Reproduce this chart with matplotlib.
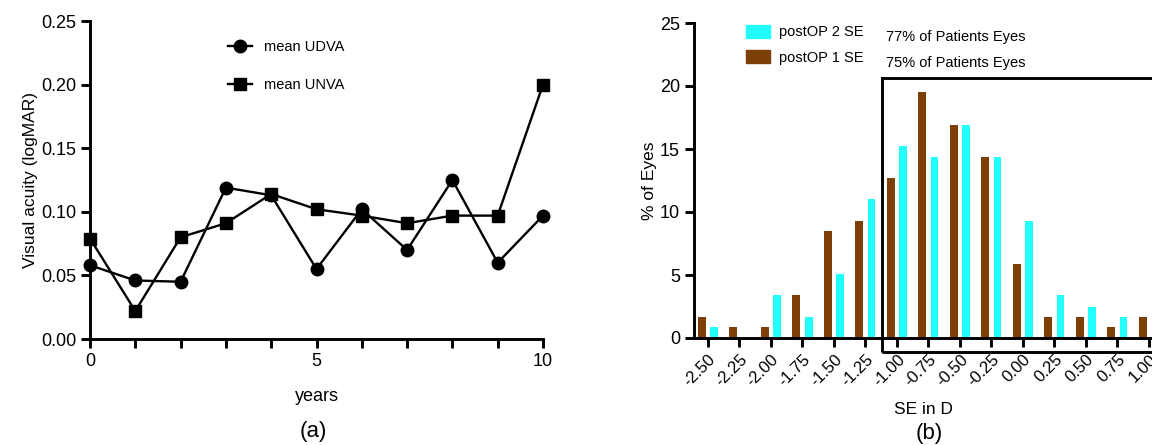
import numpy as np
import matplotlib
matplotlib.use('Agg')
import matplotlib.pyplot as plt
from matplotlib.patches import Rectangle, Patch

plt.rcParams['font.family'] = ['Liberation Sans', 'DejaVu Sans']

# Panel (a): visual acuity over years
years = [0, 1, 2, 3, 4, 5, 6, 7, 8, 9, 10]
udva = [0.058, 0.046, 0.045, 0.119, 0.113, 0.055, 0.102, 0.070, 0.125, 0.060, 0.097]
unva = [0.079, 0.022, 0.080, 0.091, 0.114, 0.102, 0.097, 0.091, 0.097, 0.097, 0.200]

# Panel (b): SE distribution
se_bins = [-2.50, -2.25, -2.00, -1.75, -1.50, -1.25, -1.00, -0.75, -0.50, -0.25,
           0.00, 0.25, 0.50, 0.75, 1.00]
postop1 = [1.7, 0.85, 0.85, 3.4, 8.5, 9.3, 12.7, 19.5, 16.9, 14.4, 5.9, 1.7, 1.7, 0.85, 1.7]
postop2 = [0.85, 0, 3.4, 1.7, 5.1, 11.0, 15.2, 14.4, 16.9, 14.4, 9.3, 3.4, 2.5, 1.7, 0]

W, H = 1152, 445
fig = plt.figure(figsize=(W / 100, H / 100), dpi=100)

lw_axis = 2.1
cyan = '#22ffff'
brown = '#7c3f06'

# ---- (a)
ax1 = fig.add_axes([90 / W, 1 - 339 / H, 453 / W, 318 / H])
ax1.plot(years, udva, 'k-', marker='o', markersize=9, linewidth=1.7,
         clip_on=False, zorder=3, label='mean UDVA')
ax1.plot(years, unva, 'k-', marker='s', markersize=9, linewidth=1.7,
         clip_on=False, zorder=3, label='mean UNVA')
ax1.set_xlim(0, 10)
ax1.set_ylim(0, 0.25)
ax1.set_xticks(years)
ax1.set_xticklabels(['0', '', '', '', '', '5', '', '', '', '', '10'])
ax1.set_yticks([0, 0.05, 0.10, 0.15, 0.20, 0.25])
ax1.set_yticklabels(['0.00', '0.05', '0.10', '0.15', '0.20', '0.25'])
ax1.set_xlabel('years', fontsize=13, labelpad=13)
ax1.set_ylabel('Visual acuity (logMAR)', fontsize=12.5, labelpad=2)
ax1.legend(loc='upper left', bbox_to_anchor=(0.275, 0.98), frameon=False,
           fontsize=10.5, handlelength=1.65, handletextpad=0.85, labelspacing=1.6)

# ---- (b)
ax2 = fig.add_axes([694 / W, 1 - 338 / H, 458 / W, 315 / H])
x = np.array(se_bins)
ax2.bar(x - 0.048, postop1, width=0.063, color=brown, zorder=2)
ax2.bar(x + 0.048, postop2, width=0.063, color=cyan, zorder=2)
ax2.set_xlim(-2.611, 1.024)
ax2.set_ylim(0, 25)
ax2.set_yticks([0, 5, 10, 15, 20, 25])
ax2.set_xticks(se_bins)
ax2.set_xticklabels([f'{v:.2f}' for v in se_bins], rotation=45, ha='right',
                    rotation_mode='anchor')
ax2.set_xlabel('SE in D', fontsize=12.5, labelpad=9)
ax2.set_ylabel('% of Eyes', fontsize=12.5, labelpad=2.5)
ax2.add_patch(Rectangle((-1.115, -1.11), 2.6, 21.74, fill=False, edgecolor='black',
                        linewidth=lw_axis, clip_on=False, zorder=4))
handles = [Patch(color=cyan), Patch(color=brown)]
ax2.legend(handles, ['postOP 2 SE', 'postOP 1 SE'], loc='upper left',
           bbox_to_anchor=(0.085, 1.035), frameon=False, fontsize=10.5,
           handlelength=1.65, handleheight=0.95, handletextpad=0.62, labelspacing=0.75)
ax2.text((886 - 694) / 458, (338 - 37) / 315, '77% of Patients Eyes',
         transform=ax2.transAxes, fontsize=10.5, va='center', ha='left')
ax2.text((886 - 694) / 458, (338 - 63) / 315, '75% of Patients Eyes',
         transform=ax2.transAxes, fontsize=10.5, va='center', ha='left')

for ax in (ax1, ax2):
    ax.spines['top'].set_visible(False)
    ax.spines['right'].set_visible(False)
    ax.spines['left'].set_linewidth(lw_axis)
    ax.spines['bottom'].set_linewidth(lw_axis)
    ax.tick_params(direction='out', length=6.5, width=lw_axis, labelsize=13)
ax2.tick_params(axis='x', labelsize=12)

fig.text(313 / W, 1 - 432 / H, '(a)', fontsize=16, ha='center', va='center')
fig.text(929 / W, 1 - 433 / H, '(b)', fontsize=16, ha='center', va='center')

fig.savefig('out.png', dpi=100)
